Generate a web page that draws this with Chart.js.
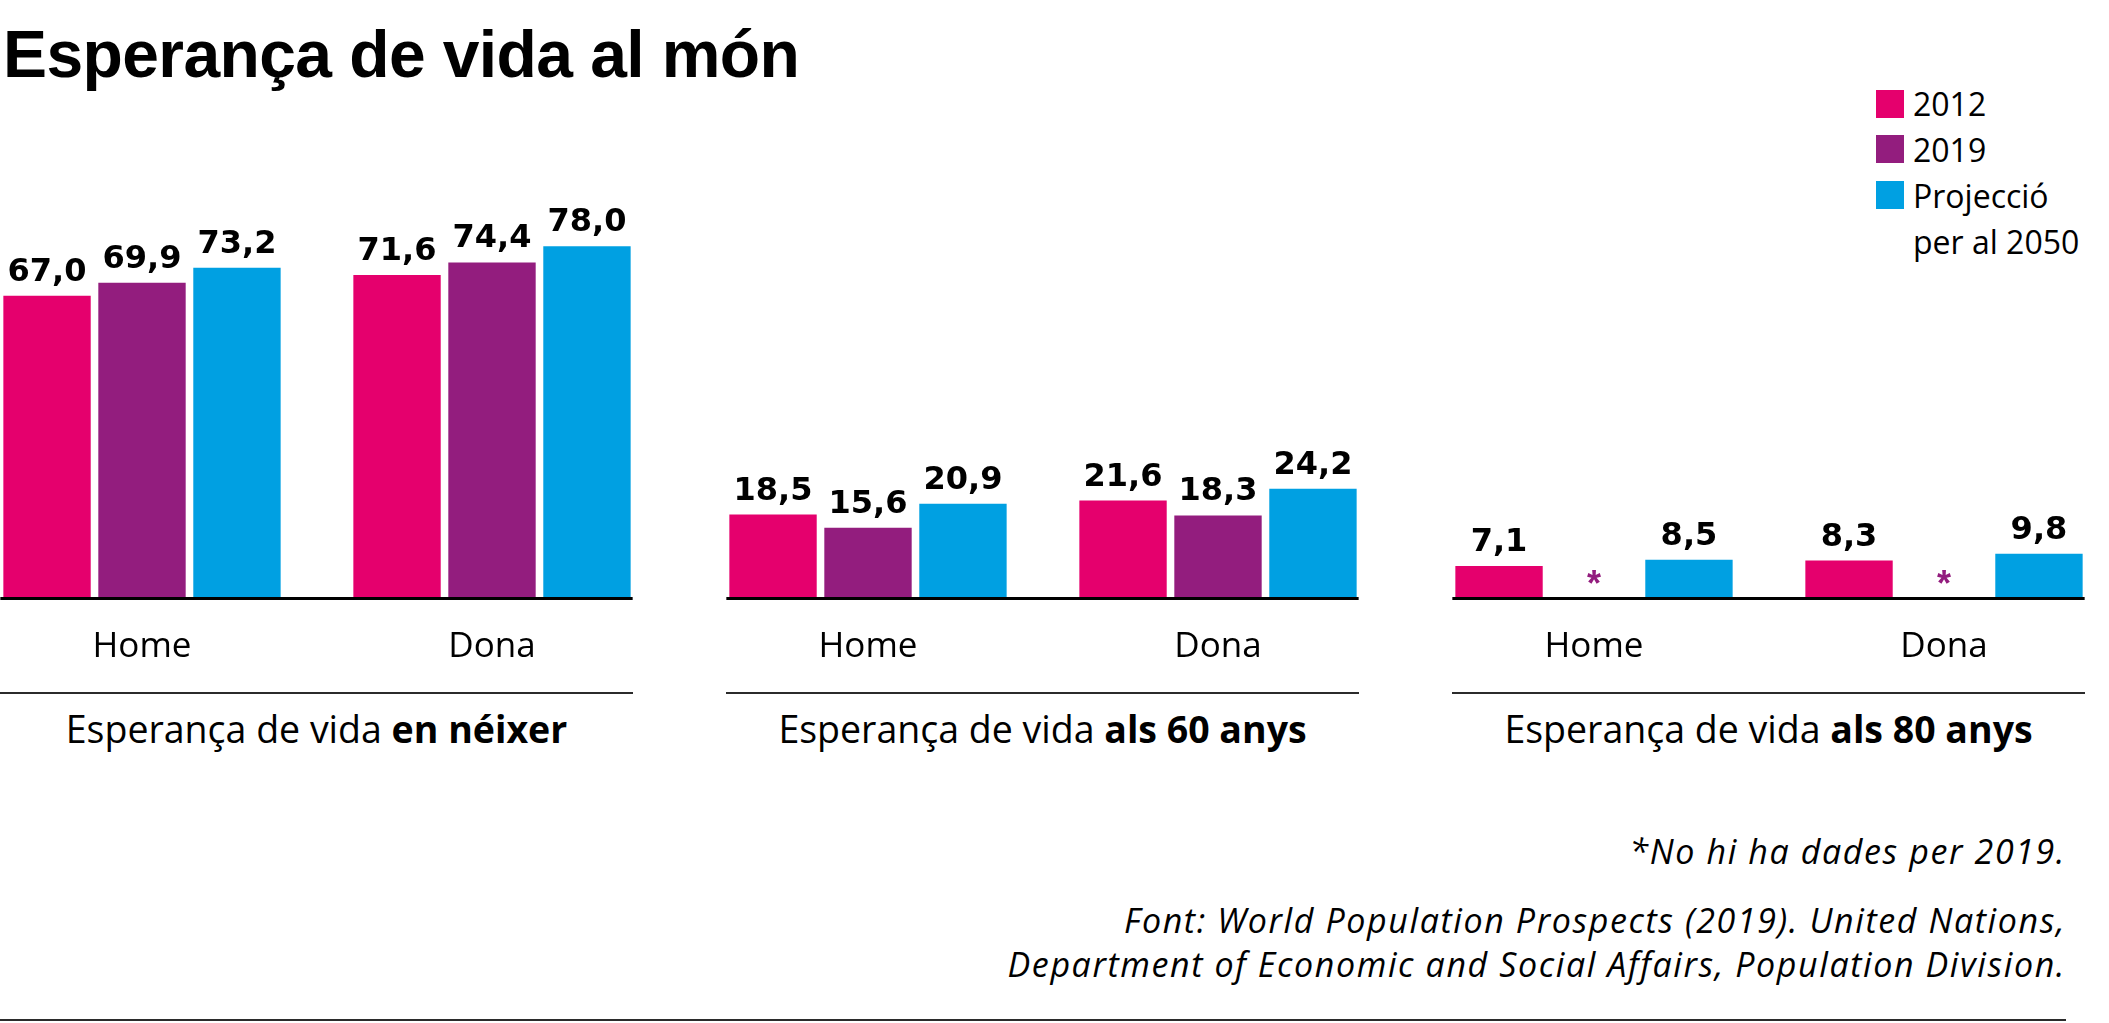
<!DOCTYPE html>
<html lang="ca">
<head>
<meta charset="utf-8">
<title>Esperança de vida al món</title>
<script src="https://cdn.jsdelivr.net/npm/chart.js@4.4.1/dist/chart.umd.min.js"></script>
<style>
  html, body { margin: 0; padding: 0; background: #fff; }
  body { position: relative; width: 2109px; height: 1023px; overflow: hidden;
         font-family: "Open Sans", sans-serif; color: #000; }
  .abs { position: absolute; white-space: nowrap; line-height: 1; }
  #title { left: 3px; top: 16px; font: bold 66px "Liberation Sans", Arial, sans-serif; letter-spacing: -0.6px; }
  canvas { position: absolute; top: 100px; }
  .sep { position: absolute; top: 692px; height: 2px; width: 633px; background: #2b2b2b; }
  .ptitle { position: absolute; top: 710px; width: 633px; text-align: center; font-size: 37.5px; line-height: 1; white-space: nowrap; }
  .ptitle b { font-weight: 700; }
  .sw { position: absolute; left: 1876px; width: 28px; height: 28px; }
  .lg { position: absolute; left: 1913px; font-size: 32px; line-height: 1; white-space: nowrap; }
  .note { position: absolute; right: 43px; font-size: 34px; font-style: italic; letter-spacing: 1.6px; line-height: 1; white-space: nowrap; }
  #rule { position: absolute; left: 0; top: 1019px; width: 2066px; height: 2px; background: #2b2b2b; }
</style>
</head>
<body>
<div id="title" class="abs">Esperança de vida al món</div>

<div class="sw" style="top:90px;background:#e5006d"></div>
<div class="sw" style="top:135px;background:#931d7e"></div>
<div class="sw" style="top:181px;background:#00a0e2"></div>
<div class="lg" style="top:88px">2012</div>
<div class="lg" style="top:134px">2019</div>
<div class="lg" style="top:180px">Projecció</div>
<div class="lg" style="top:226px">per al 2050</div>

<canvas id="chartNeixer" width="700" height="598" style="left:-33px"></canvas>
<canvas id="chart60" width="700" height="598" style="left:693px"></canvas>
<canvas id="chart80" width="700" height="598" style="left:1419px"></canvas>

<div class="sep" style="left:0px"></div>
<div class="sep" style="left:726px"></div>
<div class="sep" style="left:1452px"></div>
<div class="ptitle" style="left:0px">Esperança de vida <b>en néixer</b></div>
<div class="ptitle" style="left:726px">Esperança de vida <b>als 60 anys</b></div>
<div class="ptitle" style="left:1452px">Esperança de vida <b>als 80 anys</b></div>

<div class="note" style="top:834px">*No hi ha dades per 2019.</div>
<div class="note" style="top:903px">Font: World Population Prospects (2019). United Nations,</div>
<div class="note" style="top:947px">Department of Economic and Social Affairs, Population Division.</div>
<div id="rule"></div>

<script>
// Dades
const categories = ['Home', 'Dona'];
const seriesNames = ['2012', '2019', 'Projecció per al 2050'];
const seriesColors = ['#e5006d', '#931d7e', '#00a0e2'];

const neixer2012 = [67.0, 71.6];
const neixer2019 = [69.9, 74.4];
const neixer2050 = [73.2, 78.0];

const anys60_2012 = [18.5, 21.6];
const anys60_2019 = [15.6, 18.3];
const anys60_2050 = [20.9, 24.2];

const anys80_2012 = [7.1, 8.3];
const anys80_2019 = [null, null]; // no hi ha dades
const anys80_2050 = [8.5, 9.8];

const yMax = 100;

// Etiquetes de valor, asterisc i línia base
const barLabels = {
    id: 'barLabels',
    afterDatasetsDraw(chart) {
        const ctx = chart.ctx;
        const base = chart.scales.y.getPixelForValue(0);
        const first = chart.getDatasetMeta(0).data[0];
        const lastMeta = chart.getDatasetMeta(chart.data.datasets.length - 1);
        const last = lastMeta.data[lastMeta.data.length - 1];
        ctx.save();
        ctx.fillStyle = '#000';
        ctx.fillRect(first.x - first.width / 2 - 3, base - 1, (last.x + last.width / 2 + 2) - (first.x - first.width / 2 - 3), 3);

        ctx.textAlign = 'center';
        ctx.textBaseline = 'alphabetic';
        chart.data.datasets.forEach((ds, d) => {
            chart.getDatasetMeta(d).data.forEach((bar, i) => {
                const v = ds.data[i];
                if (v === null || v === undefined) {
                    ctx.fillStyle = seriesColors[d];
                    ctx.font = 'bold 36px "Liberation Sans", Arial, sans-serif';
                    ctx.fillText('*', bar.x, base - 2);
                } else {
                    ctx.fillStyle = '#000';
                    ctx.font = 'bold 32px "DejaVu Sans", sans-serif';
                    ctx.fillText(v.toFixed(1).replace('.', ','), bar.x, bar.y - 15);
                }
            });
        });
        ctx.restore();
    }
};

const createPanel = (id, d2012, d2019, d2050) => {
    const ctx = document.getElementById(id).getContext('2d');
    const values = [d2012, d2019, d2050];
    new Chart(ctx, {
        type: 'bar',
        data: {
            labels: categories,
            datasets: values.map((data, k) => ({
                label: seriesNames[k],
                data: data,
                backgroundColor: seriesColors[k],
                borderWidth: 0,
                categoryPercentage: 0.814,
                barPercentage: 0.92
            }))
        },
        options: {
            responsive: false,
            animation: false,
            events: [],
            layout: { padding: { top: 47, left: 0, right: 0, bottom: 0 } },
            plugins: {
                legend: { display: false },
                tooltip: { enabled: false }
            },
            scales: {
                x: {
                    grid: { display: false, drawTicks: false },
                    border: { display: false },
                    ticks: {
                        color: '#000',
                        font: { family: 'Open Sans', size: 35 },
                        padding: 28
                    },
                    afterFit(scale) { scale.height = 100; }
                },
                y: { display: false, min: 0, max: yMax }
            }
        },
        plugins: [barLabels]
    });
};

createPanel('chartNeixer', neixer2012, neixer2019, neixer2050);
createPanel('chart60', anys60_2012, anys60_2019, anys60_2050);
createPanel('chart80', anys80_2012, anys80_2019, anys80_2050);
</script>
</body>
</html>
